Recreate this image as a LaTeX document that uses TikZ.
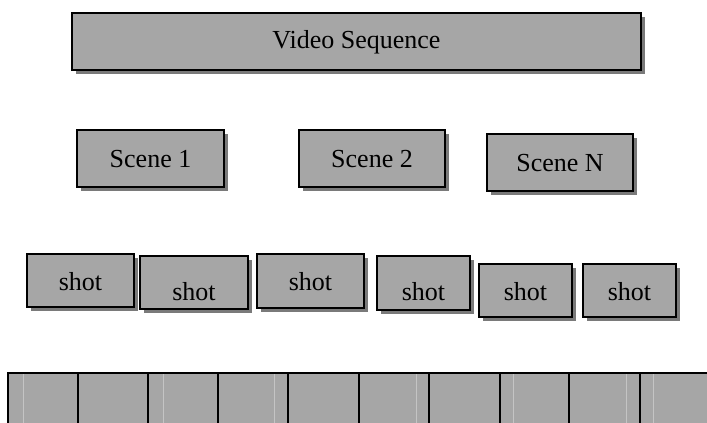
\documentclass[tikz,border=0pt]{standalone}
\usepackage{fontspec}
\setmainfont{Liberation Serif}
\usetikzlibrary{shadows}
\definecolor{boxgray}{HTML}{A6A6A6}
\definecolor{shadgray}{HTML}{7A7A7A}
\definecolor{faint}{HTML}{C4C4C4}
\tikzset{
  box/.style={draw=black, line width=2.5pt, fill=boxgray, inner sep=0pt,
    drop shadow={shadow xshift=3.5pt, shadow yshift=-3.5pt, fill=shadgray, opacity=1}},
  lbl/.style={anchor=base, inner sep=0pt, font=\fontsize{26}{30}\selectfont},
  divider/.style={line width=2pt, draw=black},
  faintline/.style={line width=0.8pt, draw=faint}
}
\newcommand{\pbox}[6]{% name, x1, y1, x2, y2, (unused)
  \node[box, minimum width={(#4-#2)*1pt}, minimum height={(#5-#3)*1pt}] (#1) at ({(#2+#4)/2},{(#3+#5)/2}) {};}
\begin{document}
\begin{tikzpicture}[x=1pt,y=-1pt]
\useasboundingbox (0,0) rectangle (707,423);
\clip (0,0) rectangle (707,423);
% video sequence
\pbox{vs}{72}{13}{641}{70}{}
\node[lbl] (vst) at (356.5,48) {Video Sequence};
% scenes
\pbox{s1}{77}{130}{224}{187}{}
\node[lbl] (s1t) at (150.5,167) {Scene 1};
\pbox{s2}{299}{130}{445}{187}{}
\node[lbl] (s2t) at (372,167) {Scene 2};
\pbox{sn}{487}{134}{633}{191}{}
\node[lbl] (snt) at (560,171) {Scene N};
% shots
\pbox{h1}{27}{254}{134}{307}{}
\node[lbl] (h1t) at (80.5,290) {shot};
\pbox{h2}{140}{256}{248}{309}{}
\node[lbl] (h2t) at (194,300) {shot};
\pbox{h3}{257}{254}{364}{308}{}
\node[lbl] (h3t) at (310.5,290) {shot};
\pbox{h4}{377}{256}{470}{310}{}
\node[lbl] (h4t) at (423.5,300) {shot};
\pbox{h5}{479}{264}{572}{317}{}
\node[lbl] (h5t) at (525.5,300) {shot};
\pbox{h6}{583}{264}{676}{317}{}
\node[lbl] (h6t) at (629.5,300) {shot};
% frame strip
\fill[boxgray] (8,373) rectangle (712,428);
\foreach \x in {23,163,274,416,513,626,653}
  \draw[faintline] (\x,374) -- (\x,428);
\draw[line width=2pt] (8,373) -- (712,373);
\foreach \x in {8,78,148,218,288,359,429,500,569,640}
  \draw[divider] (\x,372) -- (\x,428);
\end{tikzpicture}
\end{document}
